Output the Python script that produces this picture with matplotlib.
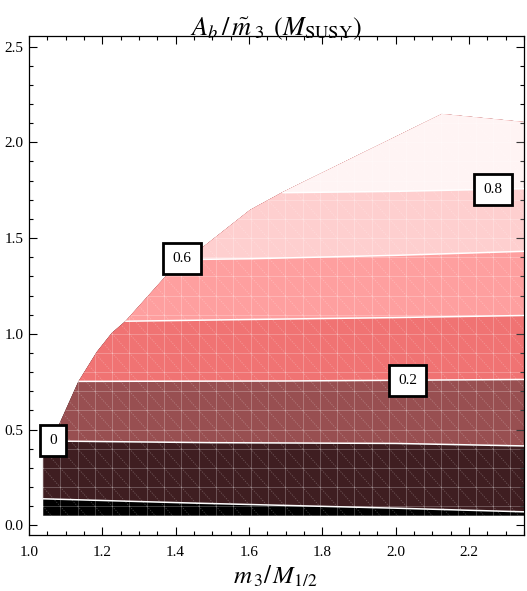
import matplotlib
matplotlib.use("Agg")
import matplotlib.pyplot as plt
from matplotlib.collections import LineCollection
from matplotlib.patches import Polygon
from matplotlib.ticker import MultipleLocator
import numpy as np

plt.rcParams["font.family"] = ["Liberation Serif", "DejaVu Serif"]
plt.rcParams["mathtext.fontset"] = "stix"

# upper edge of the region where the solution exists (m3/M12, y)
edge_x = [1.038, 1.038, 1.085, 1.134, 1.185, 1.226, 1.264, 1.371, 1.603, 1.693, 2.126, 2.35]
edge_y = [0.050, 0.348, 0.540, 0.749, 0.906, 1.005, 1.068, 1.297, 1.647, 1.741, 2.148, 2.106]
y_floor = 0.05

# contour lines of A_b / m3
levels = [-0.2, 0.0, 0.2, 0.4, 0.6, 0.8]
line_m02_x = [1.038, 1.46, 2.0, 2.35]
line_m02_y = [0.139, 0.116, 0.090, 0.071]
line_00_x = [1.038, 1.5, 2.0, 2.35]
line_00_y = [0.441, 0.432, 0.428, 0.415]
line_02_x = [1.134, 1.7, 2.35]
line_02_y = [0.752, 0.754, 0.762]
line_04_x = [1.264, 1.6, 2.0, 2.35]
line_04_y = [1.066, 1.075, 1.085, 1.096]
line_06_x = [1.428, 1.6, 2.0, 2.35]
line_06_y = [1.388, 1.392, 1.410, 1.431]
line_08_x = [1.693, 2.0, 2.35]
line_08_y = [1.737, 1.744, 1.758]

# band colours, from below the lowest level upwards
band_colors = ["#000000", "#3f1e21", "#984f51", "#f07373", "#fe9f9f", "#fecfcf", "#fff4f4"]

# contour labels: text, x, y
label_text = ["0", "0.2", "0.6", "0.8"]
label_x = [1.065, 2.032, 1.417, 2.265]
label_y = [0.442, 0.755, 1.392, 1.752]

contour_lines = [
    (line_m02_x, line_m02_y),
    (line_00_x, line_00_y),
    (line_02_x, line_02_y),
    (line_04_x, line_04_y),
    (line_06_x, line_06_y),
    (line_08_x, line_08_y),
]

fig = plt.figure(figsize=(5.27, 5.91), dpi=100)
ax = fig.add_axes([29 / 527, 56 / 591, 495 / 527, 499 / 591])
ax.set_xlim(1.0, 2.35)
ax.set_ylim(-0.05, 2.555)

# data region polygon
region = list(zip(edge_x, edge_y)) + [(edge_x[-1], y_floor)]
clip = Polygon(region, closed=True, transform=ax.transData, facecolor="none", edgecolor="none")
ax.add_patch(clip)

base = Polygon(region, closed=True, facecolor=band_colors[0], edgecolor="none", zorder=1)
ax.add_patch(base)
base.set_clip_path(clip)

# paint each band as "everything above this contour"
for (xs, ys), col in zip(contour_lines, band_colors[1:]):
    verts = [(0.9, ys[0])] + list(zip(xs, ys)) + [(2.5, ys[-1]), (2.5, 3.0), (0.9, 3.0)]
    p = Polygon(verts, closed=True, facecolor=col, edgecolor="none", zorder=1)
    ax.add_patch(p)
    p.set_clip_path(clip)

# triangulation mesh seams
dx, dy = 0.0472, 0.1
gx = np.arange(edge_x[0], 2.4, dx)
gy = np.arange(0.0, 2.3, dy)
straight = [[(x, y_floor), (x, 2.2)] for x in gx] + [[(1.0, y), (2.4, y)] for y in gy]
diag = []
for x in gx:
    for y in gy:
        diag.append([(x, y + dy), (x + dx, y)])
mesh = LineCollection(straight, colors="white", linewidths=0.6, alpha=0.28, zorder=2)
ax.add_collection(mesh)
mesh.set_clip_path(clip)
dmesh = LineCollection(diag, colors="white", linewidths=0.6, alpha=0.25,
                       linestyles=(0, (1.5, 1.5)), zorder=2)
ax.add_collection(dmesh)
dmesh.set_clip_path(clip)

for xs, ys in contour_lines:
    ln, = ax.plot(xs, ys, color="white", linewidth=1.1, zorder=3)
    ln.set_clip_path(clip)

for t, x, y in zip(label_text, label_x, label_y):
    ax.text(x, y, t, ha="center", va="center", fontsize=11, zorder=5,
            bbox=dict(boxstyle="square,pad=0.6", facecolor="white",
                      edgecolor="black", linewidth=2))

ax.xaxis.set_major_locator(MultipleLocator(0.2))
ax.xaxis.set_minor_locator(MultipleLocator(0.05))
ax.yaxis.set_major_locator(MultipleLocator(0.5))
ax.yaxis.set_minor_locator(MultipleLocator(0.1))
ax.xaxis.set_major_formatter(plt.FuncFormatter(lambda v, p: f"{v:.1f}"))
ax.yaxis.set_major_formatter(plt.FuncFormatter(lambda v, p: f"{v:.1f}"))
ax.tick_params(which="both", direction="in", top=True, right=True, labelsize=11,
               width=0.8, colors="black")
ax.tick_params(which="major", length=6)
ax.tick_params(which="minor", length=3)
ax.tick_params(axis="x", pad=8)
ax.tick_params(axis="y", pad=4)
for s in ax.spines.values():
    s.set_linewidth(0.9)

fig.text(276.5 / 527, (591 - 35) / 591, r"$A_b\,/\,\tilde{m}_{\;3}\;\,(M_{\rm SUSY})$",
         ha="center", va="baseline", fontsize=19)
fig.text(275 / 527, (591 - 584) / 591, r"$m_{\,3}/\,M_{1/2}$",
         ha="center", va="baseline", fontsize=18)

fig.savefig("out.png", dpi=100)
